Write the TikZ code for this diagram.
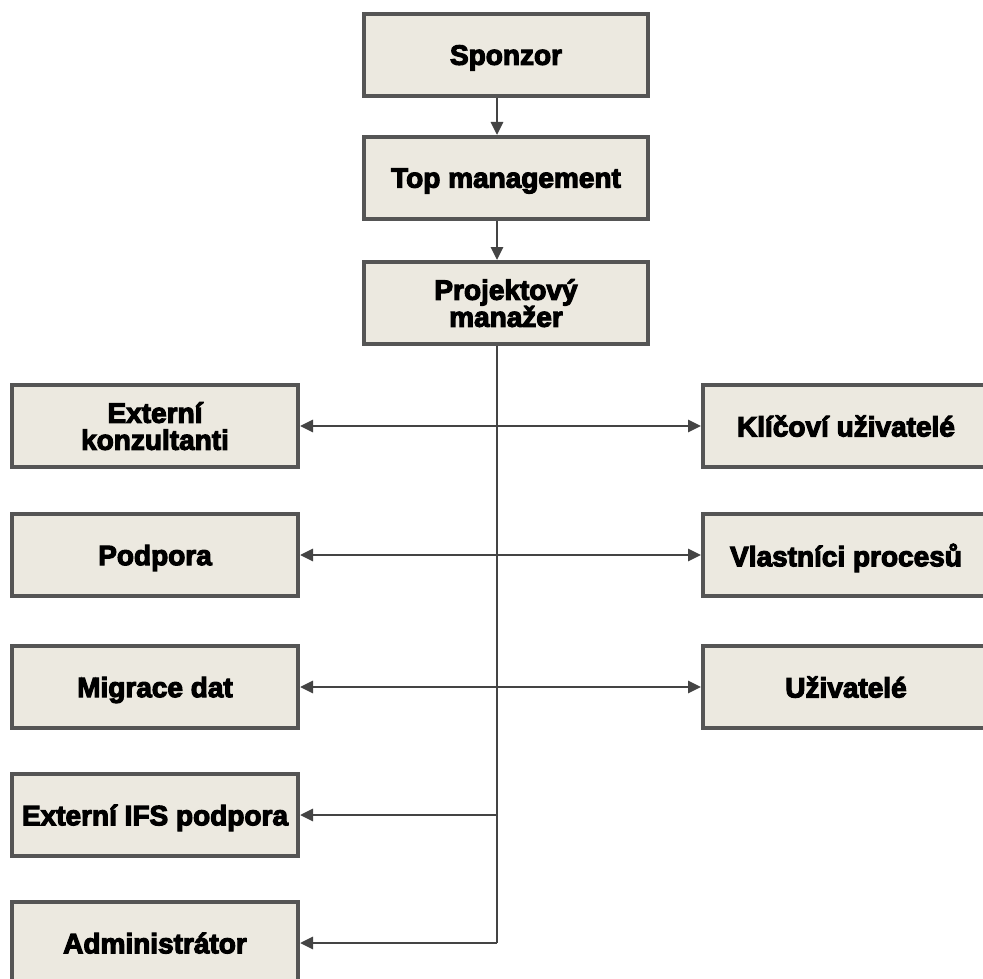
\documentclass[tikz,border=0pt]{standalone}
\usepackage{fontspec}
\setmainfont{Liberation Sans}[BoldFeatures={FakeBold=4}]
\usetikzlibrary{arrows.meta}
\definecolor{boxfill}{HTML}{ECE9E0}
\definecolor{boxline}{HTML}{555555}
\definecolor{linkcol}{HTML}{444444}
\tikzset{
  rolebox/.style={draw=boxline, fill=boxfill, line width=4pt, rectangle,
    minimum height=82pt, inner sep=0pt, align=center, text depth=0pt,
    font=\bfseries\fontsize{28}{27}\selectfont},
  midbox/.style={rolebox, minimum width=284pt},
  sidebox/.style={rolebox, minimum width=286pt},
  link/.style={draw=linkcol, line width=2.9pt},
  arr/.style={link, -{Triangle[length=13pt,width=12pt]}},
  darr/.style={link, {Triangle[length=13pt,width=12pt]}-{Triangle[length=13pt,width=12pt]}}
}
\begin{document}
\begin{tikzpicture}[x=1pt, y=-1pt]
\useasboundingbox (0,0) rectangle (983,979);
\clip (0,0) rectangle (983,979);

% chain of command in the middle column
\node[midbox] (sponzor) at (506,55) {Sponzor};
\node[midbox] (topm) at (506,178) {Top management};
\node[midbox] (pm) at (506,303) {Projektový\\manažer};

% left column
\node[sidebox] (ext) at (155,426) {Externí\\konzultanti};
\node[sidebox] (podp) at (155,555) {Podpora};
\node[sidebox] (migr) at (155,687) {Migrace dat};
\node[sidebox] (ifs) at (155,815) {Externí IFS podpora};
\node[sidebox] (admin) at (155,943) {Administrátor};

% right column
\node[sidebox] (klic) at (846,426) {Klíčoví uživatelé};
\node[sidebox] (vlast) at (846,555) {Vlastníci procesů};
\node[sidebox] (uziv) at (846,687) {Uživatelé};

% vertical spine
\coordinate (spine) at (497,0);
\coordinate (spineend) at (497,943);

\draw[arr] (sponzor.south -| spine) -- (topm.north -| spine);
\draw[arr] (topm.south -| spine) -- (pm.north -| spine);
\draw[link] (pm.south -| spine) -- (spineend);

\draw[darr] (ext.east) -- (klic.west);
\draw[darr] (podp.east) -- (vlast.west);
\draw[darr] (migr.east) -- (uziv.west);
\draw[arr] (spine |- ifs.east) -- (ifs.east);
\draw[arr] (spineend) -- (admin.east);
\end{tikzpicture}
\end{document}
